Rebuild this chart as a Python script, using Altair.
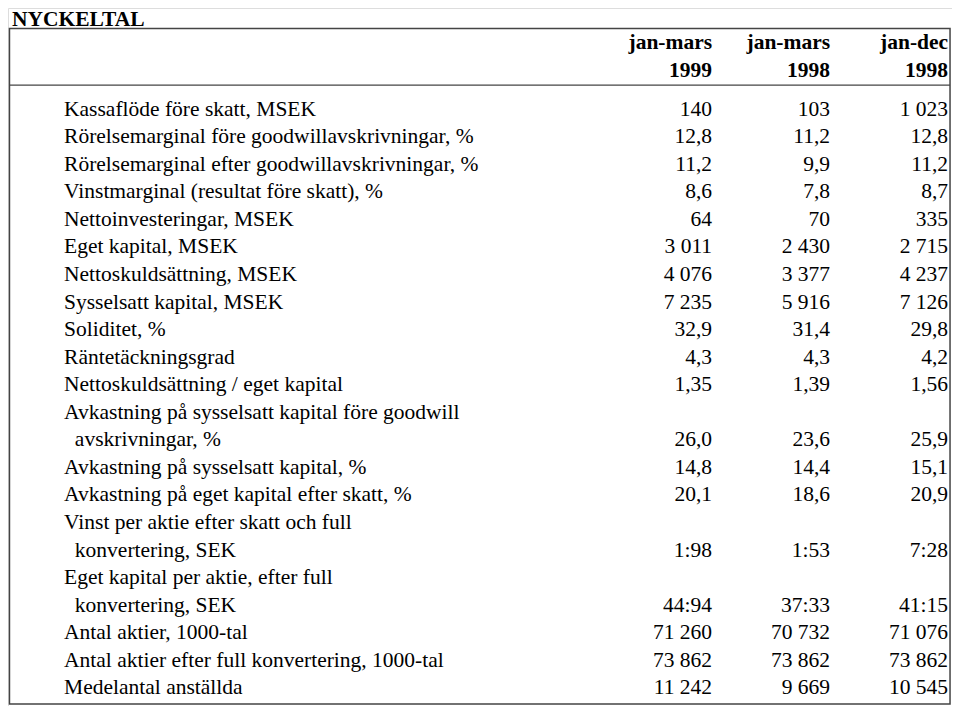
import altair as alt
import pandas as pd

title = "NYCKELTAL"
headers_top = ["jan-mars", "jan-mars", "jan-dec"]
headers_bottom = ["1999", "1998", "1998"]

labels = [
    "Kassaflöde före skatt, MSEK",
    "Rörelsemarginal före goodwillavskrivningar, %",
    "Rörelsemarginal efter goodwillavskrivningar, %",
    "Vinstmarginal (resultat före skatt), %",
    "Nettoinvesteringar, MSEK",
    "Eget kapital, MSEK",
    "Nettoskuldsättning, MSEK",
    "Sysselsatt kapital, MSEK",
    "Soliditet, %",
    "Räntetäckningsgrad",
    "Nettoskuldsättning / eget kapital",
    "Avkastning på sysselsatt kapital före goodwill|avskrivningar, %",
    "Avkastning på sysselsatt kapital, %",
    "Avkastning på eget kapital efter skatt, %",
    "Vinst per aktie efter skatt och full|konvertering, SEK",
    "Eget kapital per aktie, efter full|konvertering, SEK",
    "Antal aktier, 1000-tal",
    "Antal aktier efter full konvertering, 1000-tal",
    "Medelantal anställda",
]
q1_1999 = ["140", "12,8", "11,2", "8,6", "64", "3 011", "4 076", "7 235", "32,9", "4,3",
           "1,35", "26,0", "14,8", "20,1", "1:98", "44:94", "71 260", "73 862", "11 242"]
q1_1998 = ["103", "11,2", "9,9", "7,8", "70", "2 430", "3 377", "5 916", "31,4", "4,3",
           "1,39", "23,6", "14,4", "18,6", "1:53", "37:33", "70 732", "73 862", "9 669"]
fy_1998 = ["1 023", "12,8", "11,2", "8,7", "335", "2 715", "4 237", "7 126", "29,8", "4,2",
           "1,56", "25,9", "15,1", "20,9", "7:28", "41:15", "71 076", "73 862", "10 545"]

# ---- build line table ----
label_rows = []
value_rows = []
line = 0
for i, lab in enumerate(labels):
    parts = lab.split("|")
    for k, p in enumerate(parts):
        label_rows.append({"row": line, "text": p, "indent": k > 0})
        if k == len(parts) - 1:
            for c, col in enumerate([q1_1999, q1_1998, fy_1998]):
                value_rows.append({"row": line, "col": c + 1, "text": col[i]})
        line += 1
labels_df = pd.DataFrame(label_rows)
values_df = pd.DataFrame(value_rows)
header_df = pd.DataFrame(
    [{"row": -2.41, "col": c + 1, "text": t} for c, t in enumerate(headers_top)]
    + [{"row": -1.42, "col": c + 1, "text": t} for c, t in enumerate(headers_bottom)]
)

W, H = 944, 698
sx = W / 960
FONT = "Liberation Serif"
FS = 21.5

yscale = alt.Scale(domain=[-3.689, 21.639], reverse=True, nice=False, zero=False)
xscale = alt.Scale(domain=[-4.967, 3.033], nice=False, zero=False)

base_y = lambda: alt.Y("row:Q", scale=yscale, axis=None)

border = alt.Chart(pd.DataFrame({"a": [0]})).mark_rect(
    filled=False, stroke="#444444", strokeWidth=1.5
).encode(
    x=alt.value(1.5 * sx), x2=alt.value(958 * sx),
    y=alt.Y(datum=-2.944, scale=yscale, axis=None), y2=alt.Y2(datum=21.568),
)
sep = alt.Chart(pd.DataFrame({"a": [0]})).mark_rule(
    stroke="#444444", strokeWidth=1.2
).encode(
    x=alt.value(1.5 * sx), x2=alt.value(958 * sx),
    y=alt.Y(datum=-0.887, scale=yscale, axis=None),
)
title_t = alt.Chart(pd.DataFrame({"text": [title]})).mark_text(
    font=FONT, fontSize=FS, fontWeight="bold", align="left", baseline="top", color="black"
).encode(
    x=alt.value(4 * sx), y=alt.value(1), text="text:N"
)
hdr = alt.Chart(header_df).mark_text(
    font=FONT, fontSize=FS, fontWeight="bold", align="right", baseline="middle", color="black"
).encode(
    x=alt.X("col:Q", scale=xscale, axis=None), y=base_y(), text="text:N"
)
lab_main = alt.Chart(labels_df).transform_filter("!datum.indent").mark_text(
    font=FONT, fontSize=FS, align="left", baseline="middle", color="black"
).encode(x=alt.value(57 * sx), y=base_y(), text="text:N")
lab_ind = alt.Chart(labels_df).transform_filter("datum.indent").mark_text(
    font=FONT, fontSize=FS, align="left", baseline="middle", color="black"
).encode(x=alt.value(68 * sx), y=base_y(), text="text:N")
vals = alt.Chart(values_df).mark_text(
    font=FONT, fontSize=FS, align="right", baseline="middle", color="black"
).encode(
    x=alt.X("col:Q", scale=xscale, axis=None), y=base_y(), text="text:N"
)

chart = alt.layer(border, sep, title_t, hdr, lab_main, lab_ind, vals).properties(
    width=W, height=H, autosize=alt.AutoSizeParams(type="none"), padding=0
).configure_view(stroke=None, strokeWidth=0).configure(background="white")

chart.save("out.html", embed_options={"renderer": "svg", "actions": False})
